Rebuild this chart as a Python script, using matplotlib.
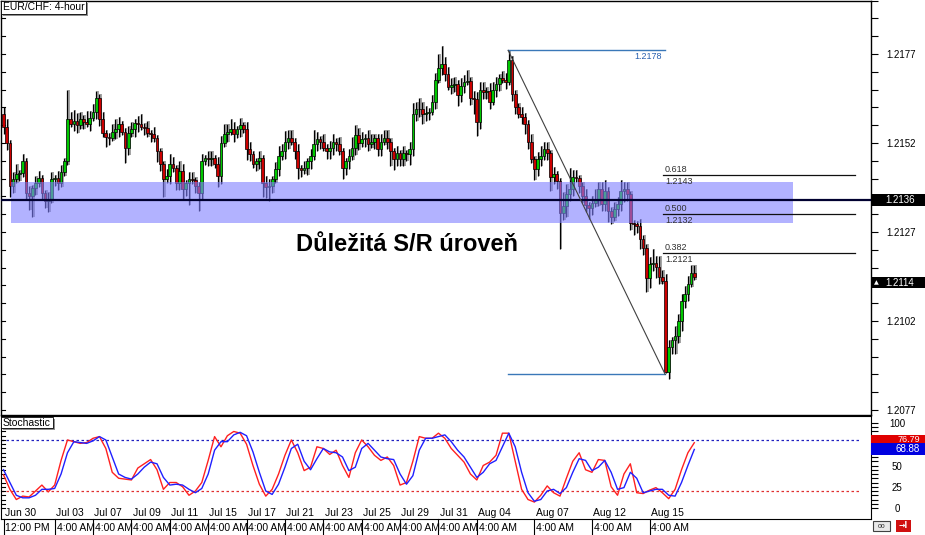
import matplotlib
matplotlib.use('Agg')
import matplotlib.pyplot as plt
import matplotlib.transforms as mtransforms
from matplotlib.patches import Rectangle
import numpy as np

plt.rcParams['font.family'] = ['Liberation Sans', 'DejaVu Sans']

# ---------- data (EUR/CHF, 4-hour candles) ----------
first_open = 1.21602
closes = [
    1.21566, 1.21519, 1.21399, 1.21418, 1.21432, 1.21435, 1.21468, 1.21379, 1.21371, 1.21393,
    1.21407, 1.21421, 1.21379, 1.21357, 1.21362, 1.21418, 1.21421, 1.21407, 1.21438, 1.21468,
    1.21588, 1.21574, 1.21583, 1.21569, 1.21588, 1.21580, 1.21574, 1.21591, 1.21608, 1.21647,
    1.21588, 1.21547, 1.21538, 1.21535, 1.21552, 1.21558, 1.21572, 1.21552, 1.21505, 1.21547,
    1.21558, 1.21577, 1.21572, 1.21566, 1.21563, 1.21547, 1.21544, 1.21533, 1.21496, 1.21460,
    1.21418, 1.21426, 1.21460, 1.21449, 1.21407, 1.21440, 1.21390, 1.21407, 1.21418, 1.21415,
    1.21399, 1.21379, 1.21468, 1.21477, 1.21474, 1.21477, 1.21460, 1.21426, 1.21519, 1.21544,
    1.21552, 1.21558, 1.21544, 1.21558, 1.21569, 1.21558, 1.21502, 1.21488, 1.21460, 1.21468,
    1.21477, 1.21407, 1.21396, 1.21399, 1.21418, 1.21446, 1.21482, 1.21496, 1.21524, 1.21535,
    1.21524, 1.21496, 1.21449, 1.21443, 1.21449, 1.21468, 1.21482, 1.21516, 1.21530, 1.21524,
    1.21507, 1.21496, 1.21505, 1.21524, 1.21516, 1.21496, 1.21449, 1.21468, 1.21482, 1.21507,
    1.21541, 1.21519, 1.21530, 1.21535, 1.21516, 1.21524, 1.21535, 1.21502, 1.21524, 1.21535,
    1.21524, 1.21496, 1.21474, 1.21491, 1.21474, 1.21491, 1.21488, 1.21502, 1.21602, 1.21614,
    1.21616, 1.21602, 1.21605, 1.21608, 1.21636, 1.21697, 1.21731, 1.21742, 1.21714, 1.21678,
    1.21683, 1.21686, 1.21655, 1.21681, 1.21692, 1.21695, 1.21647, 1.21642, 1.21580, 1.21670,
    1.21664, 1.21667, 1.21636, 1.21670, 1.21686, 1.21703, 1.21697, 1.21692, 1.21753, 1.21658,
    1.21622, 1.21600, 1.21594, 1.21574, 1.21524, 1.21474, 1.21446, 1.21474, 1.21482, 1.21502,
    1.21491, 1.21424, 1.21432, 1.21412, 1.21323, 1.21343, 1.21376, 1.21390, 1.21424, 1.21421,
    1.21399, 1.21371, 1.21345, 1.21337, 1.21351, 1.21362, 1.21390, 1.21348, 1.21385, 1.21329,
    1.21312, 1.21334, 1.21348, 1.21385, 1.21390, 1.21376, 1.21295, 1.21292, 1.21287, 1.21251,
    1.21225, 1.21142, 1.21181, 1.21183, 1.21172, 1.21144, 1.21133, 1.20876, 1.20946, 1.20966,
    1.20977, 1.21021, 1.21077, 1.21097, 1.21125, 1.21156, 1.21144,
]
# wick lengths in pips above / below the body
upper_wick = [
    2, 2, 1, 2, 3, 1, 2, 1, 2, 1,   2, 2, 1, 1, 2, 2, 1, 2, 2, 1,
    8, 2, 3, 2, 2, 1, 3, 2, 2, 2,   1, 2, 1, 1, 2, 3, 2, 1, 1, 2,
    2, 1, 2, 3, 1, 2, 1, 2, 1, 1,   1, 2, 3, 2, 1, 3, 2, 1, 2, 2,
    1, 1, 2, 1, 2, 2, 1, 2, 2, 3,   2, 3, 2, 1, 2, 1, 2, 2, 1, 1,
    2, 1, 2, 2, 1, 2, 3, 2, 3, 2,   2, 1, 2, 1, 2, 1, 2, 4, 2, 1,
    2, 1, 2, 2, 1, 2, 1, 1, 2, 3,   3, 2, 2, 1, 2, 2, 1, 1, 2, 2,
    2, 1, 1, 2, 1, 2, 1, 2, 3, 2,   3, 2, 2, 1, 2, 2, 4, 5, 2, 2,
    2, 2, 1, 2, 2, 3, 1, 2, 2, 2,   2, 1, 2, 2, 2, 1, 2, 2, 2.5, 1,
    1, 1, 2, 1, 1, 2, 1, 2, 3, 2,   2, 1, 2, 1, 1, 4, 3, 6, 2, 2,
    1, 1, 2, 1, 2, 3, 2, 2, 3, 1,   1, 2, 2, 3, 2, 2, 1, 1, 1, 2,
    1, 1, 2, 4, 2, 3, 2, 2, 2, 1,   3, 2, 2, 2, 2, 2, 2,
]
lower_wick = [
    2, 2, 3, 2, 1, 2, 1, 2, 4, 6,   2, 1, 2, 2, 3, 1, 2, 2, 1, 1,
    1, 1, 2, 2, 1, 2, 1, 2, 1, 2,   2, 1, 3, 2, 1, 2, 2, 1, 4, 2,
    1, 2, 2, 1, 2, 1, 2, 1, 3, 2,   5, 1, 2, 1, 2, 2, 3, 2, 6, 1,
    2, 5, 2, 1, 2, 2, 1, 3, 2, 1,   2, 1, 2, 1, 2, 1, 3, 2, 1, 2,
    2, 4, 3, 4, 2, 1, 2, 1, 2, 2,   1, 2, 3, 2, 1, 2, 2, 1, 2, 2,
    1, 2, 2, 2, 2, 1, 3, 2, 2, 1,   2, 2, 1, 2, 2, 1, 2, 2, 2, 1,
    2, 4, 3, 2, 2, 2, 2, 3, 2, 2,   2, 3, 2, 2, 1, 2, 1, 2, 2, 1,
    2, 2, 3, 2, 2, 1, 2, 4, 4, 2,   2, 2, 2, 1, 2, 2, 1, 2, 1, 2,
    2, 1, 2, 3, 2, 1, 3, 2, 2, 1,   2, 4, 2, 2, 10, 2, 3, 2, 2, 1,
    2, 2, 2, 3, 2, 1, 2, 2, 2, 3,   2, 1, 2, 2, 3, 2, 2, 3, 2, 3,
    2, 4, 3, 2, 3, 2, 1, 0.3, 2, 2, 4, 2, 3, 2, 2, 1, 1,
]

# stochastic, every second candle
stoch_k = [
    39, 22, 10, 14, 13, 20, 27, 19, 27, 56, 80, 78, 76, 77, 82, 84, 70, 42, 35, 34,
    33, 47, 52, 57, 45, 22, 30, 30, 25, 15, 20, 30, 56, 84, 72, 85, 90, 88, 75, 50,
    28, 14, 22, 40, 62, 80, 65, 44, 48, 72, 70, 63, 68, 50, 36, 65, 80, 72, 62, 56,
    60, 50, 27, 30, 55, 84, 82, 82, 88, 82, 70, 62, 54, 40, 33, 50, 54, 62, 88, 88,
    55, 22, 10, 7, 15, 26, 18, 14, 35, 55, 65, 45, 42, 57, 56, 25, 15, 40, 52, 18,
    17, 21, 24, 18, 11, 22, 45, 65, 76.79,
]
stoch_d = [
    45, 30, 15, 12, 12, 15, 22, 22, 23, 40, 65, 78, 77, 76, 79, 84, 80, 60, 40, 36,
    34, 40, 48, 54, 52, 36, 27, 28, 27, 22, 18, 23, 40, 68, 78, 78, 86, 89, 85, 66,
    42, 20, 16, 28, 48, 70, 75, 55, 45, 58, 70, 66, 65, 60, 44, 48, 70, 76, 68, 60,
    58, 57, 40, 28, 38, 68, 82, 82, 84, 86, 78, 68, 60, 48, 36, 42, 52, 56, 72, 88,
    72, 42, 18, 8, 10, 20, 22, 17, 24, 42, 58, 56, 44, 48, 56, 42, 22, 24, 42, 35,
    18, 20, 22, 22, 15, 14, 30, 50, 68.88,
]

# time axis: candle index where each day label starts
day_index = [0, 16, 28, 40, 52, 64, 76, 88, 100, 112, 124, 136, 148, 166, 184, 202]
day_labels = ["Jun 30", "Jul 03", "Jul 07", "Jul 09", "Jul 11", "Jul 15", "Jul 17", "Jul 21",
              "Jul 23", "Jul 25", "Jul 29", "Jul 31", "Aug 04", "Aug 07", "Aug 12", "Aug 15"]
time_labels = ["12:00 PM"] + ["4:00 AM"] * 15

price_ticks = [1.2077, 1.2102, 1.2127, 1.2152, 1.2177]
sr_level = 1.2136
zone_low, zone_high = 1.21295, 1.21410
fib_high, fib_low = 1.2178, 1.2087
fib_ratios = ["0.618", "0.500", "0.382"]
fib_values = [1.2143, 1.2132, 1.2121]
last_price = 1.2114

# ---------- figure ----------
W, H = 925, 535
fig = plt.figure(figsize=(W / 100, H / 100), dpi=100)


def px_rect(x0, y0, x1, y1):
    return [x0 / W, 1 - y1 / H, (x1 - x0) / W, (y1 - y0) / H]


ax = fig.add_axes(px_rect(0.5, 0.5, 871, 415))
ax2 = fig.add_axes(px_rect(0.5, 416, 871, 519))
xlim = (-0.94, 271.25)

opens = [first_open] + closes[:-1]
o = np.array(opens)
c = np.array(closes)
x = np.arange(len(c))
hi = np.maximum(o, c) + np.array(upper_wick) * 0.0001
lo = np.minimum(o, c) - np.array(lower_wick) * 0.0001
bull = c >= o

ax.vlines(x + 0.45, lo, hi, color='#9c9c9c', lw=1.3, zorder=1)
ax.vlines(x, lo, hi, color='black', lw=0.9, zorder=2)
ax.bar(x, np.maximum(np.abs(c - o), 0.00002), bottom=np.minimum(o, c), width=0.85,
       color=np.where(bull, '#00c800', '#cc0000'), edgecolor='black', linewidth=0.5, zorder=3)

# support / resistance zone
ax.add_patch(Rectangle((2.2, zone_low), 244.7, zone_high - zone_low,
                       facecolor='#8080ff', alpha=0.6, edgecolor='none', zorder=4))
ax.axhline(sr_level, color='#000030', lw=1.6, zorder=5)

# fibonacci tool
ax.plot([157.8, 206.9], [fib_high, fib_high], color='#3a78b8', lw=1.0, zorder=5)
ax.plot([157.8, 206.9], [fib_low, fib_low], color='#3a78b8', lw=1.0, zorder=5)
ax.plot([157.8, 206.9], [fib_high, fib_low], color='#404040', lw=0.8, zorder=5)
ax.text(206.0, fib_high - 0.00005, "1.2178", color='#2860b0', fontsize=6.5,
        ha='right', va='top', zorder=6)
for r, v in zip(fib_ratios, fib_values):
    ax.plot([206.3, 266.3], [v, v], color='#101010', lw=0.9, zorder=5)
    ax.text(206.8, v + 0.00004, r, color='#303030', fontsize=6.5, ha='left', va='bottom', zorder=6)
    ax.text(206.8, v - 0.00005, "%.4f" % v, color='#303030', fontsize=6.5, ha='left', va='top', zorder=6)

fig.text(296 / W, 1 - 251 / H, "Důležitá S/R úroveň", fontsize=17, fontweight='bold',
         ha='left', va='baseline', color='black', zorder=10)

ax.set_xlim(*xlim)
ax.set_ylim(1.207560, 1.219125)
ax.set_xticks([])
ax.yaxis.tick_right()
ax.set_yticks(price_ticks)
ax.set_yticklabels(["%.4f" % t for t in price_ticks])
ax.set_yticks(np.arange(1.2077, 1.2192, 0.0005), minor=True)
ax.tick_params(axis='y', which='both', direction='out', length=5, width=0.8,
               labelsize=7, pad=6, colors='black')
lt = mtransforms.blended_transform_factory(ax.transAxes, ax.transData)
for t in np.arange(1.2077, 1.2192, 0.0005):
    ax.plot([0, 0.005], [t, t], color='black', lw=0.8, transform=lt, clip_on=False)
for s in ax.spines.values():
    s.set_linewidth(1.0)

# price boxes on the right axis
bt = mtransforms.blended_transform_factory(fig.transFigure, ax.transData)
box_h = 12 / 35800
fig.add_artist(Rectangle((871 / W, sr_level - box_h / 2), 54 / W, box_h, transform=bt,
                         facecolor='black', edgecolor='none', clip_on=False))
fig.text(885 / W, sr_level, "%.4f" % sr_level, transform=bt, color='white',
         fontsize=7, va='center', ha='left')
fig.add_artist(Rectangle((871 / W, last_price - box_h / 2 - 0.00012), 54 / W, box_h, transform=bt,
                         facecolor='black', edgecolor='none', clip_on=False))
fig.text(885 / W, last_price - 0.00012, "%.4f" % last_price, transform=bt, color='white',
         fontsize=7, va='center', ha='left')
fig.text(874 / W, last_price - 0.00012, "▲", transform=bt, color='white',
         fontsize=4.5, va='center', ha='left', family='DejaVu Sans')

# ---------- stochastic ----------
sx = np.arange(0, len(stoch_k) * 2, 2)
ax2.plot(sx, stoch_k, color='#ff2020', lw=1.0, zorder=3)
ax2.plot(sx, stoch_d, color='#2020ff', lw=1.0, zorder=4)
ax2.axhline(80, xmax=0.989, color='#2020c0', ls=(0, (2, 2)), lw=0.9)
ax2.axhline(20, xmax=0.989, color='#e03030', ls=(0, (2, 2)), lw=0.9)
ax2.set_xlim(*xlim)
ax2.set_ylim(-12.9, 108.2)
ax2.set_xticks([])
ax2.yaxis.tick_right()
ax2.set_yticks([0, 25, 50, 100])
ax2.set_yticks(np.arange(0, 105, 5), minor=True)
ax2.tick_params(axis='y', which='both', direction='out', length=5, width=0.8,
                labelsize=7, pad=14)
for lab in ax2.get_yticklabels():
    lab.set_ha('center')
lt2 = mtransforms.blended_transform_factory(ax2.transAxes, ax2.transData)
for t in np.arange(0, 105, 5):
    ax2.plot([0, 0.005], [t, t], color='black', lw=0.8, transform=lt2, clip_on=False)

# current stochastic values: red box partly hidden behind the blue one
f2 = mtransforms.blended_transform_factory(fig.transFigure, fig.transFigure)
fig.add_artist(Rectangle((871 / W, 1 - 445 / H), 54 / W, 10 / H, transform=f2,
                         facecolor='#e00000', edgecolor='none'))
fig.text(920 / W, 1 - 439 / H, "%.2f" % stoch_k[-1], color='white',
         fontsize=6.5, va='center', ha='right')
fig.add_artist(Rectangle((871 / W, 1 - 455 / H), 54 / W, 12 / H, transform=f2,
                         facecolor='#0000e0', edgecolor='none'))
fig.text(920 / W, 1 - 449.5 / H, "%.2f" % stoch_d[-1], color='white',
         fontsize=7, va='center', ha='right')

# date labels and time row
tx = mtransforms.blended_transform_factory(ax2.transData, ax2.transAxes)
for i, d, t in zip(day_index, day_labels, time_labels):
    ax2.text(i + 0.4, 0.06, d, transform=tx, fontsize=7.5, ha='left', va='center', zorder=5)
    ax2.plot([i, i], [0, -0.16], color='black', lw=0.8, transform=tx, clip_on=False)
    ax2.text(i + 0.6, -0.085, t, transform=tx, fontsize=7.5, ha='left', va='center', clip_on=False)

# panel captions with drop shadow
def caption(x0, y0, x1, y1, text):
    fig.add_artist(Rectangle((x0 / W + 2 / W, 1 - (y1 + 2) / H), (x1 - x0) / W, (y1 - y0) / H,
                             transform=fig.transFigure, facecolor='#909090', edgecolor='none'))
    fig.add_artist(Rectangle((x0 / W, 1 - y1 / H), (x1 - x0) / W, (y1 - y0) / H,
                             transform=fig.transFigure, facecolor='white', edgecolor='black', lw=0.6))
    fig.text((x0 + 2) / W, 1 - (y0 + y1) / 2 / H, text, fontsize=7.5, ha='left', va='center')


caption(1, 1, 86, 14, "EUR/CHF: 4-hour")
caption(1, 417, 53, 428, "Stochastic")

# little toolbar icons bottom right
fig.add_artist(Rectangle((873 / W, 1 - 531 / H), 17 / W, 10 / H, transform=fig.transFigure,
                         facecolor='#e8e8e8', edgecolor='#404040', lw=0.8))
fig.text(881.5 / W, 1 - 526 / H, "oo", fontsize=5, ha='center', va='center', color='#303030')
fig.add_artist(Rectangle((896 / W, 1 - 532 / H), 15 / W, 12 / H, transform=fig.transFigure,
                         facecolor='#d01010', edgecolor='none'))
fig.text(903.5 / W, 1 - 526 / H, "→I", fontsize=5.5, ha='center', va='center', color='white',
         fontweight='bold', family=['DejaVu Sans'])

fig.savefig('out.png', dpi=100)
